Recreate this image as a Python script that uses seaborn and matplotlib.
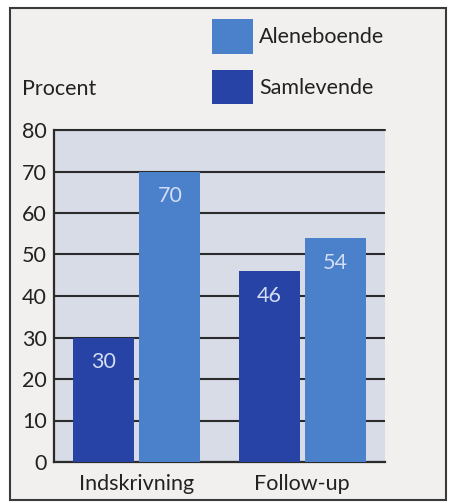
import matplotlib
matplotlib.use("Agg")
import matplotlib.pyplot as plt
from matplotlib.patches import Rectangle
import seaborn as sns
import pandas as pd

# data
perioder = ["Indskrivning", "Follow-up"]
samlevende = [30, 46]
aleneboende = [70, 54]
grupper = ["Samlevende", "Aleneboende"]

df = pd.DataFrame({
    "periode": perioder * 2,
    "procent": samlevende + aleneboende,
    "gruppe": [grupper[0]] * 2 + [grupper[1]] * 2,
})

sns.set_style("white")
plt.rcParams["font.family"] = ["Lato", "DejaVu Sans"]
tekst = "#222222"
fs = 15.5

fig = plt.figure(figsize=(4.5, 5.03), dpi=100, facecolor="white")
# outer frame
fig.patches.append(Rectangle((10 / 450, 1 - 500 / 503), 436 / 450, 492 / 503,
                             transform=fig.transFigure, facecolor="#f1f0ee",
                             edgecolor="#3a3a3a", linewidth=1.5, zorder=-5))

ax = fig.add_axes([54 / 450, 41 / 503, 331 / 450, 332 / 503])
ax.set_zorder(2)
ax.set_facecolor("#d7dce7")

farver = {"Samlevende": "#2843a6", "Aleneboende": "#4b80cb"}
sns.barplot(data=df, x="periode", y="procent", hue="gruppe", hue_order=grupper,
            order=perioder, palette=farver, saturation=1, width=0.8, gap=0.08,
            ax=ax, zorder=3, linewidth=0, legend=True)

for cont, vals in zip(ax.containers, [samlevende, aleneboende]):
    for bar, v in zip(cont, vals):
        ax.annotate(str(v), (bar.get_x() + bar.get_width() / 2, bar.get_height()),
                    xytext=(0, -18), textcoords="offset points", ha="center",
                    va="center", color="#d3ddf3", fontsize=fs, zorder=4)

ax.set_xlim(-0.5, 1.5)
ax.set_ylim(0, 80)
ax.set_yticks(range(0, 81, 10))
ax.yaxis.grid(True, color="#2b2b2b", linewidth=1.5, zorder=1)
ax.set_axisbelow(True)
for s in ["top", "right"]:
    ax.spines[s].set_visible(False)
for s in ["left", "bottom"]:
    ax.spines[s].set_color("#2b2b2b")
    ax.spines[s].set_linewidth(1.6)
ax.axhline(80, color="#2b2b2b", linewidth=1.5, clip_on=False, zorder=1)

ax.set_xticks([0.5, 1.5], minor=True)
ax.tick_params(axis="x", which="minor", direction="in", length=7, width=1.6,
               color="#2b2b2b")
ax.tick_params(axis="x", which="major", length=0, labelsize=fs, colors=tekst, pad=9)
ax.tick_params(axis="y", length=3, width=1.4, color="#2b2b2b", labelsize=fs,
               labelcolor=tekst, pad=2)
ax.set_xlabel("")
ax.set_ylabel("")

fig.text(22 / 450, 1 - 89 / 503, "Procent", fontsize=fs, color=tekst,
         ha="left", va="center")

handles, labels = ax.get_legend_handles_labels()
ax.get_legend().remove()
fig.legend(handles[::-1], labels[::-1], loc="upper left",
           bbox_to_anchor=(212 / 450, 1 - 19 / 503), frameon=False,
           borderpad=0, borderaxespad=0, handlelength=1.9, handleheight=2.1,
           labelspacing=0.75, handletextpad=0.3, fontsize=fs, labelcolor=tekst)

fig.savefig("out.png", dpi=100)
